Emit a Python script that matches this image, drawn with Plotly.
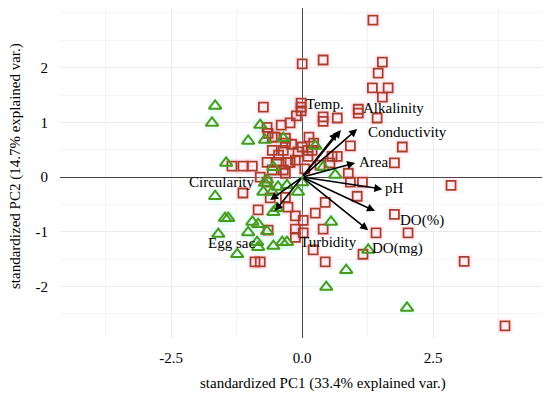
import plotly.graph_objects as go

# ---- data ----
sq_pc1 = [1.35, 0.00, 0.40, 1.53, 1.45, 1.34, 1.64, 1.53, 1.07, 1.07, 1.43, 0.67, 0.40, 0.40,
          -0.02, -0.02, -0.02, -0.11, -0.23, 0.92, 1.91, 1.76, 2.84, 0.13, 0.00, 0.11, 0.57, 0.67,
          0.53, 0.88, 0.92, 1.15, 1.05, -0.23, -0.32, -0.52, -0.74, -0.67, -0.65, -0.57, -0.57,
          -0.67, -1.34, -1.13, -0.95, -0.80, -1.13, -0.32, -0.32, -0.36, -0.48, -0.27, 0.11, 0.19,
          -0.08, -0.57, -0.36, -0.13, 0.34, -0.27, -0.13, 0.02, 0.25, 0.40, -0.13, 0.02, -0.13,
          0.21, 0.44, 1.41, 1.76, 2.02, 1.16, 3.09, 3.87, 0.44, -0.65, -0.67, -0.84, -0.90, -0.80,
          -0.32, -0.61, -0.45, -0.20, 0.05, -0.40, 0.22]
sq_pc2 = [2.87, 2.07, 2.14, 2.10, 1.90, 1.63, 1.63, 1.46, 1.24, 1.17, 1.08, 1.08, 1.10, 1.02,
          1.35, 1.28, 1.21, 1.12, 0.99, 0.57, 0.55, 0.26, -0.15, 0.73, 0.55, 0.38, 0.38, 0.38,
          0.26, 0.07, -0.09, -0.09, -0.35, 0.27, 0.07, 0.73, 1.28, 0.91, 0.80, 0.73, 0.49,
          0.27, 0.20, 0.20, 0.20, 0.00, -0.29, 0.71, 0.62, 0.49, 0.27, 0.27, 0.49, 0.49,
          0.46, 0.13, 0.13, 0.31, 0.22, -0.55, -0.71, -0.79, -0.66, -0.95, -0.95, -1.02, -1.10,
          -1.33, -1.55, -1.02, -0.68, -1.02, -1.41, -1.54, -2.72, -0.46, -0.97, -0.09, -0.60, -1.55, -1.55,
          -0.37, -0.38, 0.40, 0.60, 0.15, 0.95, 0.62]

tri_pc1 = [-1.66, -1.72, -0.80, -1.03, -0.71, -1.45, -0.55, -0.67, 0.25, 0.63, 0.40, -0.36,
           -0.46, -0.29, -0.08, -0.57, -1.66, -1.47, -1.41, -0.95, -0.84, -1.60, -1.03, -0.67,
           -0.86, -0.84, -1.24, -0.55, -0.55, -0.38, -0.29, 0.55, 1.26, 0.84, 0.46, 2.00,
           -0.48, -0.74, -0.71, 0.00]
tri_pc2 = [1.30, 0.99, 0.95, 0.66, 0.68, 0.26, 0.18, -0.05, 0.57, 0.04, 0.18, 0.71,
           -0.18, -0.15, -0.27, -0.27, -0.35, -0.75, -0.75, -0.82, -0.86, -1.04, -1.01, -0.99,
           -1.19, -1.28, -1.41, -0.64, -1.26, -1.19, -1.19, -0.82, -1.33, -1.70, -2.01, -2.39,
           -0.57, -0.27, -0.11, -0.10]

var_names = ["Temp.", "Alkalinity", "Conductivity", "Area", "pH", "DO(%)", "DO(mg)",
             "Circularity", "Egg sac"]
var_pc1 = [0.67, 0.74, 1.05, 1.01, 1.53, 1.39, 1.26, -0.61, -0.52]
var_pc2 = [0.82, 0.86, 0.88, 0.26, -0.22, -0.62, -0.97, -0.42, -0.62]

label_names = ["Temp.", "Alkalinity", "Conductivity", "Area", "pH", "DO(%)", "DO(mg)",
               "Turbidity", "Circularity", "Egg sac"]
label_pc1 = [0.44, 1.74, 2.00, 1.37, 1.77, 2.29, 1.81, 0.50, -1.53, -1.35]
label_pc2 = [1.33, 1.26, 0.82, 0.27, -0.20, -0.80, -1.30, -1.19, -0.09, -1.21]

x_ticks = [-2.5, 0.0, 2.5]
x_tick_text = ["-2.5", "0.0", "2.5"]
y_ticks = [-2, -1, 0, 1, 2]
y_tick_text = ["-2", "-1", "0", "1", "2"]

FONT = "Liberation Serif, Times New Roman, serif"
SQ_COL = "#ab3e29"
TRI_COL = "#4a9a1e"

fig = go.Figure()

# faint halos
fig.add_trace(go.Scatter(x=sq_pc1, y=sq_pc2, mode="markers", hoverinfo="skip",
                         marker=dict(symbol="square", size=15, color="rgba(255,175,210,0.22)",
                                     line=dict(width=0)), showlegend=False))
fig.add_trace(go.Scatter(x=tri_pc1, y=tri_pc2, mode="markers", hoverinfo="skip",
                         marker=dict(symbol="square", size=14, color="rgba(175,255,235,0.28)",
                                     line=dict(width=0)), showlegend=False))

fig.add_trace(go.Scatter(x=sq_pc1, y=sq_pc2, mode="markers", name="group 1",
                         marker=dict(symbol="square-open", size=9, color=SQ_COL,
                                     line=dict(width=1.8, color=SQ_COL)), showlegend=False))
fig.add_trace(go.Scatter(x=tri_pc1, y=tri_pc2, mode="markers", name="group 2",
                         marker=dict(symbol="triangle-up-open", size=11, color=TRI_COL,
                                     line=dict(width=2, color=TRI_COL)), showlegend=False))

annotations = []
for xv, yv in zip(var_pc1, var_pc2):
    annotations.append(dict(x=xv, y=yv, ax=0, ay=0, xref="x", yref="y", axref="x", ayref="y",
                            text="", showarrow=True, arrowhead=2, arrowsize=1.0,
                            arrowwidth=1.6, arrowcolor="black"))
for name, xl, yl in zip(label_names, label_pc1, label_pc2):
    annotations.append(dict(x=xl, y=yl, xref="x", yref="y", text=name, showarrow=False,
                            font=dict(family=FONT, size=15, color="black"),
                            xanchor="center", yanchor="middle"))

annotations.append(dict(x=0.539, y=-0.138, xref="paper", yref="paper",
                        text="standardized PC1 (33.4% explained var.)", showarrow=False,
                        font=dict(family=FONT, size=15, color="black"),
                        xanchor="center", yanchor="middle"))
annotations.append(dict(x=-0.091, y=0.52, xref="paper", yref="paper", textangle=-90,
                        text="standardized PC2 (14.7% explained var.)", showarrow=False,
                        font=dict(family=FONT, size=15, color="black"),
                        xanchor="center", yanchor="middle"))

# page body has an 8px default margin, so the figure is sized/offset to compensate
fig.update_layout(
    width=542, height=388,
    margin=dict(l=52, r=2, t=0, b=58),
    paper_bgcolor="white", plot_bgcolor="white",
    annotations=annotations,
    font=dict(family=FONT, size=15, color="black"),
)
fig.update_xaxes(range=[-4.62, 4.69], tickvals=x_ticks, ticktext=x_tick_text,
                 showgrid=True, gridcolor="#ebebeb", gridwidth=1,
                 minor=dict(dtick=1.25, tick0=1.25, showgrid=True, gridcolor="#f4f4f4", gridwidth=0.6),
                 zeroline=True, zerolinecolor="#444444", zerolinewidth=1,
                 ticks="outside", ticklen=6, tickcolor="rgba(0,0,0,0)",
                 tickfont=dict(family=FONT, size=15, color="black"), showline=False)
fig.update_yaxes(range=[-2.94, 3.09], tickvals=y_ticks, ticktext=y_tick_text,
                 showgrid=True, gridcolor="#ebebeb", gridwidth=1,
                 minor=dict(dtick=0.5, tick0=0.5, showgrid=True, gridcolor="#f4f4f4", gridwidth=0.6),
                 zeroline=True, zerolinecolor="#444444", zerolinewidth=1,
                 ticks="outside", ticklen=8, tickcolor="rgba(0,0,0,0)",
                 tickfont=dict(family=FONT, size=15, color="black"), showline=False)

fig.write_html("out.html")
